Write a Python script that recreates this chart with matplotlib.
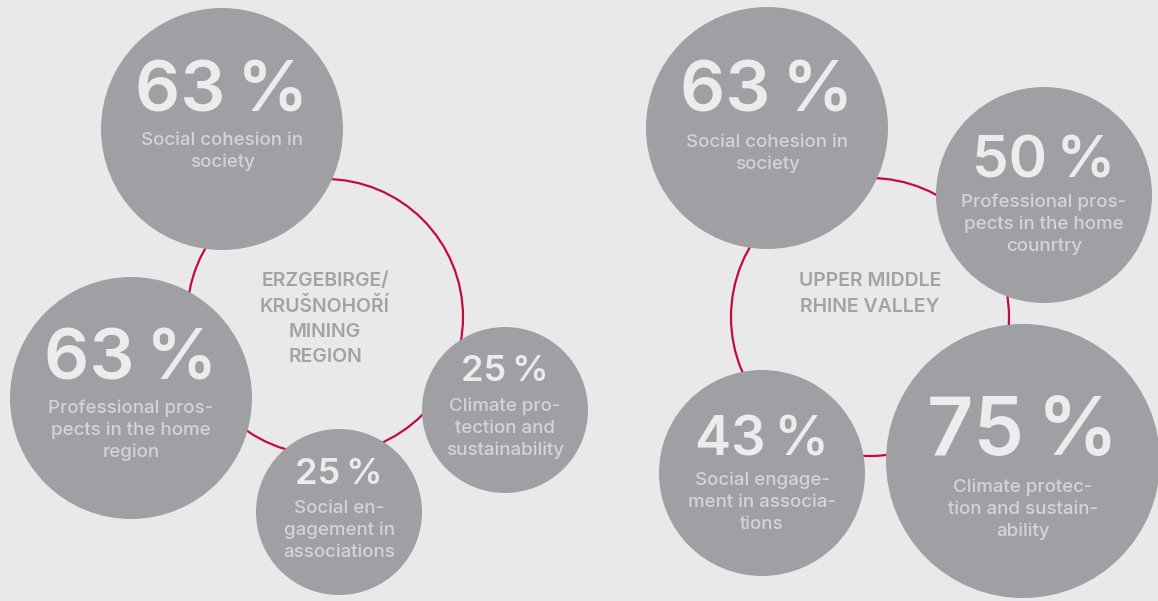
import matplotlib.pyplot as plt
from matplotlib.patches import Circle

# data
left_title = ["ERZGEBIRGE/", "KRUŠNOHOŘÍ", "MINING", "REGION"]
left_values = [63, 63, 25, 25]
left_labels = [
    ["Social cohesion in", "society"],
    ["Professional pros-", "pects in the home", "region"],
    ["Social en-", "gagement in", "associations"],
    ["Climate pro-", "tection and", "sustainability"],
]

right_title = ["UPPER MIDDLE", "RHINE VALLEY"]
right_values = [63, 50, 43, 75]
right_labels = [
    ["Social cohesion in", "society"],
    ["Professional pros-", "pects in the home", "counrtry"],
    ["Social engage-", "ment in associa-", "tions"],
    ["Climate protec-", "tion and sustain-", "ability"],
]

# layout (pixel coordinates)
left_ring = (325, 317, 138)
left_circles = [(222, 129, 121), (131, 398, 121), (339, 512, 83), (505, 410, 83)]
left_num_size = [51, 51, 26, 26]
left_num_dy = [-17, -18, -28, -29]
left_lab_dy = [16, 15, 1, 1]

right_ring = (870, 317, 139)
right_circles = [(767, 128, 121), (1044, 195, 108), (762, 473, 103), (1023, 461, 137)]
right_num_size = [51, 42, 39, 58]
right_num_dy = [-16, -18, -18, -6]
right_lab_dy = [19, 12, 12, 31]

BG = "#e9e9eb"
CIRCLE = "#a09fa3"
NUM = "#ececee"
LABEL = "#d4d3d6"
TITLE = "#a3a2a6"
RING = "#c50b3a"

plt.rcParams["font.family"] = ["Inter", "DejaVu Sans"]

fig = plt.figure(figsize=(11.58, 6.01), dpi=100, facecolor=BG)
ax = fig.add_axes([0, 0, 1, 1])
ax.set_facecolor(BG)
ax.set_xlim(0, 1158)
ax.set_ylim(601, 0)
ax.set_aspect("equal")
ax.axis("off")


def draw_group(ring, title, circles, values, labels, num_size, num_dy, lab_dy):
    rx, ry, rr = ring
    ax.add_patch(Circle((rx, ry), rr, fill=False, edgecolor=RING, lw=1.6, zorder=1))
    top = ry - 31
    for i, line in enumerate(title):
        ax.text(rx, top + i * 25.5, line, ha="center", va="baseline",
                fontsize=14, fontweight=600, color=TITLE, zorder=3)
    for (cx, cy, r), v, lab, fs, ndy, ldy in zip(circles, values, labels,
                                                  num_size, num_dy, lab_dy):
        ax.add_patch(Circle((cx, cy), r, facecolor=CIRCLE, edgecolor="none", zorder=2))
        ax.text(cx, cy + ndy, f"{v}\u2009%", ha="center", va="baseline",
                fontsize=fs, fontweight=600, color=NUM, zorder=3)
        for j, line in enumerate(lab):
            ax.text(cx, cy + ldy + j * 22, line, ha="center", va="baseline",
                    fontsize=13.5, fontweight=500, color=LABEL, zorder=3)


draw_group(left_ring, left_title, left_circles, left_values, left_labels,
           left_num_size, left_num_dy, left_lab_dy)
draw_group(right_ring, right_title, right_circles, right_values, right_labels,
           right_num_size, right_num_dy, right_lab_dy)

fig.savefig("out.png", dpi=100, facecolor=BG)
